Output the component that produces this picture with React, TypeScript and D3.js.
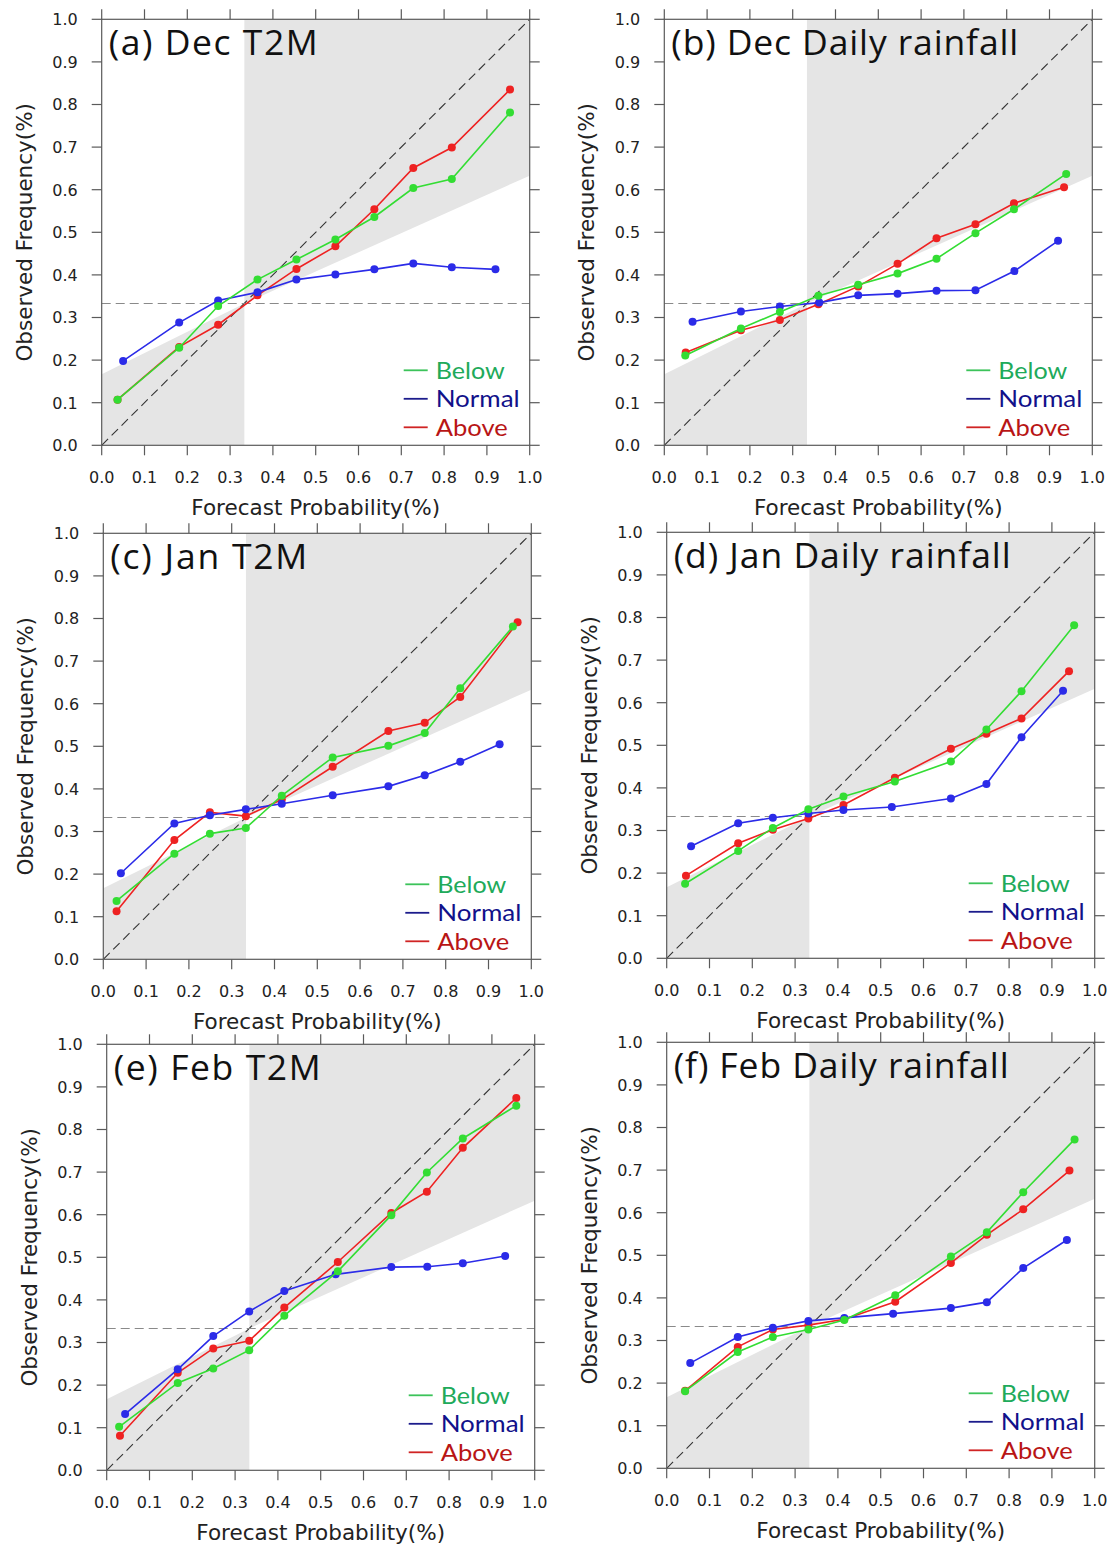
import React from "react";
import * as d3 from "d3";

// ---- tick values shared by every panel ----
const tickValues = [0, 0.1, 0.2, 0.3, 0.4, 0.5, 0.6, 0.7, 0.8, 0.9, 1.0];
const tickLabels = ["0.0", "0.1", "0.2", "0.3", "0.4", "0.5", "0.6", "0.7", "0.8", "0.9", "1.0"];

// no-skill boundary (forecast prob -> observed freq) and climatology
const noSkillX = [0, 1 / 3, 1];
const noSkillY = [0.167, 0.333, 0.633];
const climatology = 0.333;

// ---- (a) Dec T2M ----
const decT2mX = [0.037, 0.181, 0.272, 0.364, 0.455, 0.546, 0.637, 0.728, 0.818, 0.954];
const decT2mNormalX = [0.05, 0.181, 0.272, 0.364, 0.455, 0.546, 0.637, 0.728, 0.818, 0.92];
const decT2mBelow = [0.107, 0.229, 0.327, 0.389, 0.436, 0.483, 0.536, 0.604, 0.625, 0.781];
const decT2mNormal = [0.198, 0.288, 0.34, 0.359, 0.389, 0.401, 0.413, 0.427, 0.418, 0.413];
const decT2mAbove = [0.107, 0.231, 0.283, 0.352, 0.414, 0.467, 0.554, 0.651, 0.699, 0.835];

// ---- (b) Dec Daily rainfall ----
const decRainX = [0.049, 0.179, 0.27, 0.36, 0.453, 0.545, 0.636, 0.727, 0.817, 0.939];
const decRainAboveX = [0.05, 0.179, 0.27, 0.36, 0.453, 0.545, 0.636, 0.727, 0.817, 0.934];
const decRainNormalX = [0.066, 0.179, 0.27, 0.362, 0.453, 0.545, 0.636, 0.727, 0.818, 0.92];
const decRainBelow = [0.211, 0.274, 0.313, 0.351, 0.377, 0.403, 0.438, 0.498, 0.554, 0.637];
const decRainNormal = [0.29, 0.314, 0.326, 0.335, 0.352, 0.356, 0.363, 0.364, 0.409, 0.48];
const decRainAbove = [0.218, 0.27, 0.294, 0.331, 0.373, 0.426, 0.486, 0.519, 0.568, 0.606];

// ---- (c) Jan T2M ----
const janT2mX = [0.031, 0.166, 0.249, 0.333, 0.417, 0.536, 0.666, 0.751, 0.834, 0.957];
const janT2mAboveX = [0.031, 0.166, 0.249, 0.333, 0.417, 0.536, 0.666, 0.751, 0.834, 0.968];
const janT2mNormalX = [0.041, 0.166, 0.249, 0.333, 0.417, 0.536, 0.666, 0.751, 0.834, 0.926];
const janT2mBelow = [0.137, 0.248, 0.295, 0.308, 0.384, 0.474, 0.501, 0.531, 0.636, 0.781];
const janT2mNormal = [0.202, 0.319, 0.338, 0.352, 0.365, 0.385, 0.406, 0.432, 0.464, 0.505];
const janT2mAbove = [0.113, 0.28, 0.345, 0.336, 0.375, 0.452, 0.536, 0.555, 0.616, 0.791];

// ---- (d) Jan Daily rainfall ----
const janRainX = [0.043, 0.167, 0.248, 0.331, 0.413, 0.533, 0.664, 0.747, 0.829, 0.952];
const janRainAboveX = [0.045, 0.167, 0.248, 0.331, 0.413, 0.533, 0.664, 0.747, 0.829, 0.94];
const janRainNormalX = [0.057, 0.167, 0.248, 0.331, 0.413, 0.526, 0.664, 0.747, 0.829, 0.926];
const janRainBelow = [0.175, 0.252, 0.306, 0.35, 0.38, 0.415, 0.462, 0.537, 0.627, 0.782];
const janRainNormal = [0.263, 0.317, 0.33, 0.34, 0.348, 0.355, 0.375, 0.409, 0.519, 0.628];
const janRainAbove = [0.194, 0.27, 0.302, 0.328, 0.36, 0.424, 0.492, 0.527, 0.563, 0.674];

// ---- (e) Feb T2M ----
const febT2mX = [0.029, 0.166, 0.249, 0.333, 0.415, 0.54, 0.665, 0.748, 0.832, 0.957];
const febT2mAboveX = [0.031, 0.166, 0.249, 0.333, 0.415, 0.54, 0.665, 0.748, 0.832, 0.957];
const febT2mNormalX = [0.043, 0.166, 0.249, 0.333, 0.415, 0.535, 0.665, 0.749, 0.832, 0.931];
const febT2mBelow = [0.102, 0.205, 0.239, 0.282, 0.363, 0.467, 0.599, 0.699, 0.779, 0.856];
const febT2mNormal = [0.132, 0.237, 0.315, 0.373, 0.421, 0.46, 0.477, 0.478, 0.486, 0.503];
const febT2mAbove = [0.081, 0.229, 0.286, 0.304, 0.382, 0.489, 0.604, 0.654, 0.757, 0.874];

// ---- (f) Feb Daily rainfall ----
const febRainX = [0.043, 0.166, 0.248, 0.331, 0.415, 0.534, 0.664, 0.748, 0.833, 0.953];
const febRainAboveX = [0.043, 0.166, 0.248, 0.331, 0.415, 0.534, 0.664, 0.748, 0.833, 0.941];
const febRainNormalX = [0.055, 0.166, 0.248, 0.331, 0.415, 0.529, 0.664, 0.748, 0.833, 0.935];
const febRainBelow = [0.181, 0.273, 0.308, 0.326, 0.348, 0.406, 0.497, 0.554, 0.648, 0.772];
const febRainNormal = [0.247, 0.308, 0.33, 0.346, 0.353, 0.363, 0.376, 0.39, 0.47, 0.536];
const febRainAbove = [0.182, 0.285, 0.326, 0.336, 0.35, 0.391, 0.482, 0.548, 0.608, 0.699];

const legendNames = ["Below", "Normal", "Above"];
const legendWidths = [69, 84, 72];

// ---- layout ----
const W = 428;
const H = 426;

const panels = [
  { title: "(a) Dec T2M", titleLen: 209, left: 101.7, top: 19.3,
    below: [decT2mX, decT2mBelow], normal: [decT2mNormalX, decT2mNormal], above: [decT2mX, decT2mAbove] },
  { title: "(b) Dec Daily rainfall", titleLen: 347, left: 664.3, top: 19.3,
    below: [decRainX, decRainBelow], normal: [decRainNormalX, decRainNormal], above: [decRainAboveX, decRainAbove] },
  { title: "(c) Jan T2M", titleLen: 197, left: 103.3, top: 533.3,
    below: [janT2mX, janT2mBelow], normal: [janT2mNormalX, janT2mNormal], above: [janT2mAboveX, janT2mAbove] },
  { title: "(d) Jan Daily rainfall", titleLen: 337, left: 666.7, top: 532.3,
    below: [janRainX, janRainBelow], normal: [janRainNormalX, janRainNormal], above: [janRainAboveX, janRainAbove] },
  { title: "(e) Feb T2M", titleLen: 207, left: 106.7, top: 1044.3,
    below: [febT2mX, febT2mBelow], normal: [febT2mNormalX, febT2mNormal], above: [febT2mAboveX, febT2mAbove] },
  { title: "(f) Feb Daily rainfall", titleLen: 335, left: 666.7, top: 1042.3,
    below: [febRainX, febRainBelow], normal: [febRainNormalX, febRainNormal], above: [febRainAboveX, febRainAbove] },
];

const lineColors = { below: "#33dd33", normal: "#2b2be8", above: "#ee2222" };
const legendLineColors = ["#3cc35a", "#1c1c8c", "#d02424"];
const legendTextColors = ["#20aa5a", "#11118a", "#b81515"];

const axisFont = "'DejaVu Sans', Verdana, sans-serif";
const titleFont = "'Open Sans', 'Noto Sans', sans-serif";
const legendFont = "Lato, 'Open Sans', sans-serif";

function Panel({ p }: { p: any }) {
  const x = d3.scaleLinear().domain([0, 1]).range([0, W]);
  const y = d3.scaleLinear().domain([0, 1]).range([H, 0]);
  const line = d3
    .line<[number, number]>()
    .x((d) => x(d[0]))
    .y((d) => y(d[1]));
  const pts = (s: number[][]) => s[0].map((v, i) => [v, s[1][i]] as [number, number]);

  const c = noSkillX[1];
  const lowPoly: [number, number][] = [
    [0, 0],
    [noSkillX[0], noSkillY[0]],
    [noSkillX[1], noSkillY[1]],
    [c, 0],
  ];
  const highPoly: [number, number][] = [
    [noSkillX[1], noSkillY[1]],
    [noSkillX[2], noSkillY[2]],
    [1, 1],
    [c, 1],
  ];
  const poly = (arr: [number, number][]) => arr.map((d) => `${x(d[0])},${y(d[1])}`).join(" ");

  const series = [
    { key: "above", data: pts(p.above), color: lineColors.above },
    { key: "normal", data: pts(p.normal), color: lineColors.normal },
    { key: "below", data: pts(p.below), color: lineColors.below },
  ];
  const tickLen = 10;
  const legendStep = 28.5;
  const legendTop = H - 75;

  return (
    <g transform={`translate(${p.left},${p.top})`}>
      <polygon points={poly(lowPoly)} fill="#e5e5e5" />
      <polygon points={poly(highPoly)} fill="#e5e5e5" />
      {/* perfect reliability diagonal */}
      <line x1={x(0)} y1={y(0)} x2={x(1)} y2={y(1)} stroke="#333" strokeWidth={1.1} strokeDasharray="9,5" />
      {/* climatology */}
      <line x1={x(0)} y1={y(climatology)} x2={x(1)} y2={y(climatology)} stroke="#8a8a8a" strokeWidth={1.1} strokeDasharray="9,5" />

      {series.map((s) => (
        <g key={s.key}>
          <path d={line(s.data) || ""} fill="none" stroke={s.color} strokeWidth={1.6} />
          {s.data.map((d, i) => (
            <circle key={i} cx={x(d[0])} cy={y(d[1])} r={4} fill={s.color} />
          ))}
        </g>
      ))}

      {/* frame and ticks */}
      <rect x={0} y={0} width={W} height={H} fill="none" stroke="#5a5a5a" strokeWidth={1.2} />
      {tickValues.map((t, i) => (
        <g key={i} stroke="#5a5a5a" strokeWidth={1.2}>
          <line x1={x(t)} y1={H} x2={x(t)} y2={H + tickLen} />
          <line x1={x(t)} y1={0} x2={x(t)} y2={-tickLen} />
          <line x1={0} y1={y(t)} x2={-tickLen} y2={y(t)} />
          <line x1={W} y1={y(t)} x2={W + tickLen} y2={y(t)} />
        </g>
      ))}
      {tickValues.map((t, i) => (
        <text key={"xl" + i} x={x(t)} y={H + 38} textAnchor="middle" fontFamily={axisFont} fontSize={16} fill="#222">
          {tickLabels[i]}
        </text>
      ))}
      {tickValues.map((t, i) => (
        <text key={"yl" + i} x={-24} y={y(t) + 6} textAnchor="end" fontFamily={axisFont} fontSize={16} fill="#222">
          {tickLabels[i]}
        </text>
      ))}
      <text x={W / 2} y={H + 70} textAnchor="middle" fontFamily={axisFont} fontSize={21.5} fill="#222">
        Forecast Probability(%)
      </text>
      <text
        transform={`translate(${-70},${H / 2}) rotate(-90)`}
        textAnchor="middle"
        fontFamily={axisFont}
        fontSize={21.5}
        fill="#222"
      >
        Observed Frequency(%)
      </text>

      {/* panel title */}
      <text x={7} y={36} fontFamily={titleFont} fontSize={35.5} fill="#111" textLength={p.titleLen} lengthAdjust="spacing">
        {p.title}
      </text>

      {/* legend */}
      {legendNames.map((n, i) => {
        const cy = legendTop + i * legendStep;
        return (
          <g key={n}>
            <line x1={W - 126} y1={cy} x2={W - 102} y2={cy} stroke={legendLineColors[i]} strokeWidth={1.8} />
            <text
              x={W - 94}
              y={cy + 8.5}
              fontFamily={legendFont}
              fontSize={23.5}
              fill={legendTextColors[i]}
              textLength={legendWidths[i]}
              lengthAdjust="spacingAndGlyphs"
            >
              {n}
            </text>
          </g>
        );
      })}
    </g>
  );
}

export default function App() {
  return (
    <div style={{ position: "absolute", left: 0, top: 0 }}>
      <svg width={1115} height={1549} style={{ display: "block", background: "#fff" }}>
        <rect x={0} y={0} width={1115} height={1549} fill="#fff" />
        {panels.map((p, i) => (
          <Panel key={i} p={p} />
        ))}
      </svg>
    </div>
  );
}
